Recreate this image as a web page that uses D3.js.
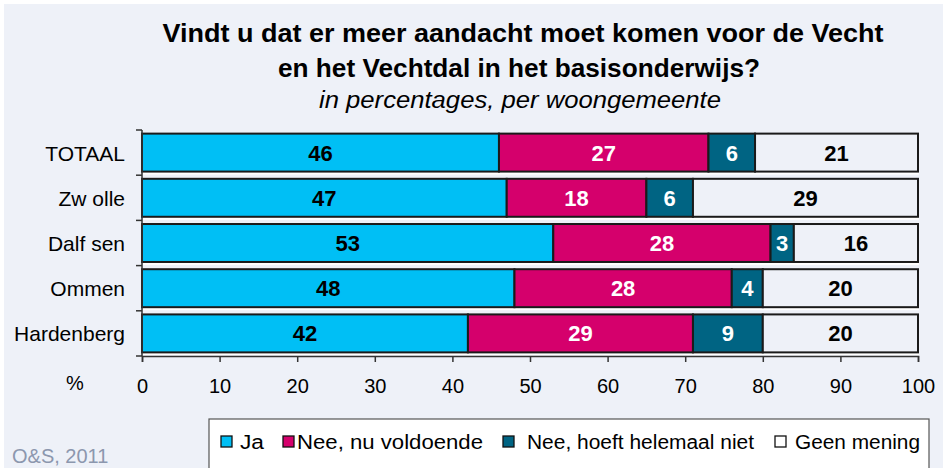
<!DOCTYPE html>
<html><head><meta charset="utf-8">
<script src="https://cdn.jsdelivr.net/npm/d3@7"></script>
<style>body{margin:0;background:#fff;} svg{display:block;font-family:Arial,"Liberation Sans",sans-serif;}</style>
</head><body>
<svg id="c" width="943" height="468"></svg>
<script>
const categories = ["TOTAAL", "Zwolle", "Dalfsen", "Ommen", "Hardenberg"];
const categoryLabels = ["TOTAAL", "Zw olle", "Dalf sen", "Ommen", "Hardenberg"];
const seriesNames = ["Ja", "Nee, nu voldoende", "Nee, hoeft helemaal niet", "Geen mening"];
const ja = [46, 47, 53, 48, 42];
const neeVoldoende = [27, 18, 28, 28, 29];
const neeHelemaal = [6, 6, 3, 4, 9];
const geenMening = [21, 29, 16, 20, 20];
const xTicks = [0, 10, 20, 30, 40, 50, 60, 70, 80, 90, 100];
const colors = ["#00BFF5", "#D5006C", "#006483", "#EEF1F8"];
const labelColors = ["#000", "#fff", "#fff", "#000"];

const series = [ja, neeVoldoende, neeHelemaal, geenMening];
const svg = d3.select("#c");
svg.append("rect").attr("x", 4).attr("y", 4).attr("width", 939).attr("height", 464).attr("fill", "#EEF1F8");

const x = d3.scaleLinear().domain([0, 100]).range([142, 918]);
const y = d3.scaleBand().domain(categories).range([130, 356]).paddingInner(0.16).paddingOuter(0.08);

// title
svg.append("text").attr("x", 523).attr("y", 42).attr("text-anchor", "middle")
  .attr("font-size", 25).attr("font-weight", "bold")
  .attr("textLength", 721).attr("lengthAdjust", "spacingAndGlyphs")
  .text("Vindt u dat er meer aandacht moet komen voor de Vecht");
svg.append("text").attr("x", 519).attr("y", 77).attr("text-anchor", "middle")
  .attr("font-size", 25).attr("font-weight", "bold")
  .attr("textLength", 482).attr("lengthAdjust", "spacingAndGlyphs")
  .text("en het Vechtdal in het basisonderwijs?");
svg.append("text").attr("x", 520).attr("y", 108).attr("text-anchor", "middle")
  .attr("font-size", 23).attr("font-style", "italic")
  .attr("textLength", 402).attr("lengthAdjust", "spacingAndGlyphs")
  .text("in percentages, per woongemeente");

// stacked data
const rows = categories.map((c, i) => {
  let acc = 0;
  return series.map((s, k) => { const d = {cat: c, k, v: s[i], x0: acc, x1: acc + s[i]}; acc += s[i]; return d; });
});

// shadows
svg.append("g").selectAll("rect").data(categories).join("rect")
  .attr("x", x(0) + 1).attr("y", d => y(d) + 3)
  .attr("width", x(100) - x(0)).attr("height", y.bandwidth())
  .attr("fill", "#fff");

const g = svg.append("g");
rows.forEach(r => {
  g.selectAll(null).data(r).join("rect")
    .attr("x", d => x(d.x0)).attr("y", d => y(d.cat))
    .attr("width", d => x(d.x1) - x(d.x0)).attr("height", y.bandwidth())
    .attr("fill", d => colors[d.k]).attr("stroke", "#1a1a1a").attr("stroke-width", 2);
  g.selectAll(null).data(r).join("text")
    .attr("x", d => (x(d.x0) + x(d.x1)) / 2).attr("y", d => y(d.cat) + y.bandwidth() / 2 + 8)
    .attr("text-anchor", "middle").attr("font-size", 22).attr("font-weight", "bold")
    .attr("fill", d => labelColors[d.k]).text(d => d.v);
});

// axes
const yAxisG = svg.append("g").attr("transform", `translate(${x(0)},0)`);
yAxisG.append("line").attr("x1", 0).attr("x2", 0).attr("y1", 130).attr("y2", 356).attr("stroke", "#333").attr("stroke-width", 1.5);
const yTickPos = categories.map(c => y(c) - y.step() * y.paddingInner() / 2).concat([356]);
yAxisG.selectAll(".yt").data(yTickPos).join("line").attr("x1", -6).attr("x2", 0)
  .attr("y1", d => d).attr("y2", d => d).attr("stroke", "#333").attr("stroke-width", 1.5);
svg.append("g").selectAll("text").data(categories).join("text")
  .attr("x", 125).attr("y", d => y(d) + y.bandwidth() / 2 + 8)
  .attr("text-anchor", "end").attr("font-size", 21).text((d, i) => categoryLabels[i]);

const xAxis = d3.axisBottom(x).tickValues(xTicks).tickSize(6).tickPadding(17).tickFormat(d3.format("d"));
const xg = svg.append("g").attr("transform", "translate(0,356)").call(xAxis);
xg.select(".domain").attr("stroke", "#333").attr("stroke-width", 1.5);
xg.selectAll(".tick line").attr("stroke", "#333").attr("stroke-width", 1.5);
xg.selectAll(".tick text").attr("font-size", 20).attr("font-family", "Arial, 'Liberation Sans', sans-serif").attr("fill", "#000");
svg.append("text").attr("x", 75).attr("y", 390).attr("text-anchor", "middle").attr("font-size", 20).text("%");

// legend
svg.append("rect").attr("x", 209).attr("y", 419).attr("width", 720).attr("height", 60)
  .attr("fill", "#fff").attr("stroke", "#555").attr("stroke-width", 1.2);
const legSq = [221, 283, 503, 775];
const legTx = [240, 297, 527, 795];
const legW = [24, 186, 227, 125];
const lg = svg.append("g").selectAll("g").data(seriesNames).join("g");
lg.append("rect").attr("x", (d, i) => legSq[i]).attr("y", 436).attr("width", 11).attr("height", 11)
  .attr("fill", (d, i) => i === 3 ? "#fff" : colors[i]).attr("stroke", "#111").attr("stroke-width", 1.3);
lg.append("text").attr("x", (d, i) => legTx[i]).attr("y", 449).attr("font-size", 20)
  .attr("textLength", (d, i) => legW[i]).attr("lengthAdjust", "spacingAndGlyphs").text(d => d);

svg.append("text").attr("x", 12).attr("y", 463).attr("font-size", 20).attr("fill", "#8C97AE").text("O&S, 2011");
</script>
</body></html>
